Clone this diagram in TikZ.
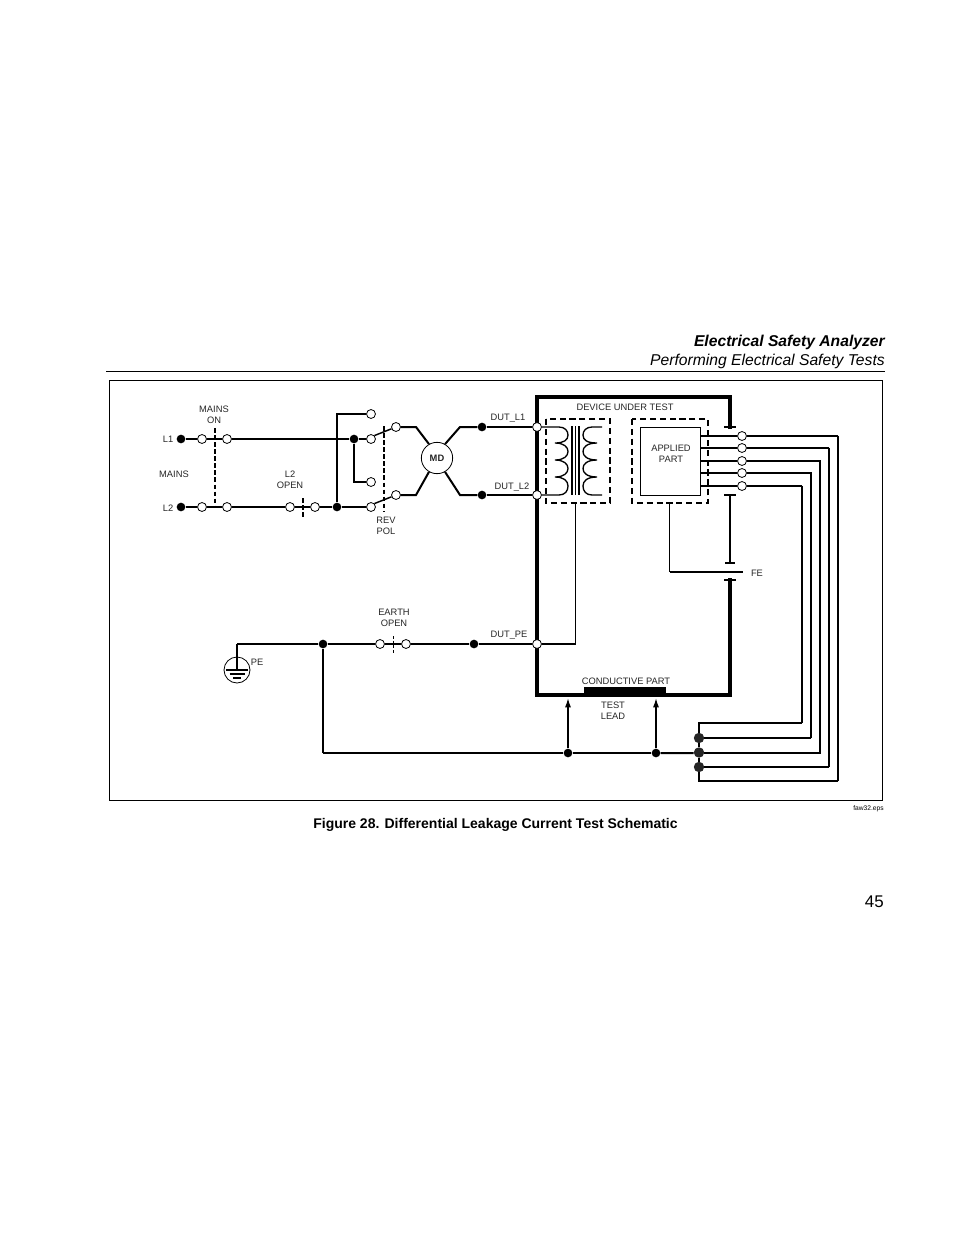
\documentclass[tikz,border=0pt]{standalone}
\usepackage{fontspec}
\setmainfont{Liberation Sans}
\usetikzlibrary{arrows.meta}
\tikzset{
  ot/.style={circle,draw=black,fill=white,line width=0.6pt,minimum size=6.7pt,inner sep=0pt},
  dotn/.style={circle,fill=black,minimum size=6.5pt,inner sep=0pt},
  bigdot/.style={circle,fill=black!85,minimum size=7.8pt,inner sep=0pt},
  lab/.style={font=\fontsize{7}{8.25}\selectfont,inner sep=0pt,align=center,text=black!85},
  thk/.style={line width=1.5pt},
  med/.style={line width=1.1pt},
  thn/.style={line width=0.85pt},
  boxl/.style={line width=2.3pt,line cap=rect},
  ganged/.style={line width=1.5pt,dash pattern=on 3.4pt off 1.9pt},
  dbox/.style={line width=1pt,dash pattern=on 4.6pt off 2.8pt},
  capbar/.style={line width=2.2pt},
  coil/.style={line width=1pt}
}
\begin{document}
\begin{tikzpicture}[x=0.75pt,y=-0.75pt]
\useasboundingbox (0,0) rectangle (954,1235);
% page furniture
\node[anchor=east,inner sep=0pt,font=\fontsize{11.75}{14}\selectfont\bfseries\itshape] (title) at (885,342) {Electrical Safety Analyzer};
\node[anchor=east,inner sep=0pt,font=\fontsize{11.75}{14}\selectfont\itshape] (subtitle) at (885,361) {Performing Electrical Safety Tests};
\draw[line width=0.7pt] (106,371) -- (885,371);
\draw[line width=0.6pt] (109,380) rectangle (882,800);
\node[anchor=east,inner sep=0pt,font=\fontsize{5}{6}\selectfont] (eps) at (884,809) {faw32.eps};
\node[inner sep=0pt,font=\fontsize{10.5}{12}\selectfont\bfseries] (cap) at (495.5,825) {Figure 28. Differential Leakage Current Test Schematic};
\node[anchor=east,inner sep=0pt,font=\fontsize{12.7}{15}\selectfont] (page) at (884,902) {45};

% device box
\coordinate (capA) at (730,427);
\coordinate (capB) at (730,495);
\coordinate (capC) at (730,563);
\coordinate (capD) at (730,580);
\draw[boxl] (capA) -- (730,397) -- (537,397) -- (537,695) -- (730,695) -- (capD);
\draw[capbar] (724,427) -- (736,427);
\draw[capbar] (724,495) -- (736,495);
\draw[line width=2.2pt] (capB) -- (capC);
\draw[capbar] (725,563) -- (735,563);
\draw[capbar] (724,580) -- (736,580);
\fill (584,687) rectangle (666,695);

% dashed boxes
\draw[dbox] (546,419) rectangle (610,503);
\draw[dbox] (632,419) rectangle (708,503);
\node[draw,line width=0.7pt,minimum width=45pt,minimum height=51pt,inner sep=0pt,lab] (ap) at (670,461) {};
\node[lab] (aptext) at (671,454) {APPLIED\\PART};

% terminals
\foreach \n/\x/\y in {a1/202/439,a2/227/439,b1/202/507,b2/227/507,c1/290/507,c2/315/507,
  s1/371/414,s2/371/439,s3/371/482,s4/371/507,m1/396/427,m2/396/495,
  d1/537/427,d2/537/495,d3/537/644,e1/380/644,e2/406/644,
  u1/742/436,u2/742/448,u3/742/461,u4/742/473,u5/742/486}
  {\node[ot] (\n) at (\x,\y) {};}
\foreach \n/\x/\y in {l1/181/439,l2/181/507,j1/337/507,j2/354/439,k1/482/427,k2/482/495,
  p1/323/644,p2/474/644,t1/568/753,t2/656/753}
  {\node[dotn] (\n) at (\x,\y) {};}
\foreach \n/\y in {h1/738,h2/752.5,h3/767}
  {\node[bigdot] (\n) at (699,\y) {};}

% mains
\draw[thk] (l1) -- (a1);
\draw[thn] (a1) -- (a2);
\draw[med] (a2) -- (j2);
\draw[thk] (j2) -- (s2);
\draw[thk] (l2) -- (b1);
\draw[med] (b1) -- (b2);
\draw[thk] (b2) -- (c1);
\draw[med] (c1) -- (c2);
\draw[thk] (c2) -- (j1);
\draw[thk] (j1) -- (s4);
\draw[thk] (j1) |- (s1);
\draw[thn] (j2) |- (s3);
\draw[ganged] (215,428) -- (215,507);
\draw[ganged] (303,498) -- (303,517);
\draw[ganged] (384,426) -- (384,511);
\draw[med] (s2.north east) -- (m1);
\draw[med] (s4.north east) -- (m2);

% MD
\node[circle,draw,line width=0.6pt,fill=white,minimum size=23.5pt,inner sep=0pt,font=\fontsize{7}{8}\selectfont\bfseries,text=black!85] (md) at (437,458) {MD};
\draw[thk] (m1) -- (416,427) -- (md.120);
\draw[thk] (m2) -- (416,495) -- (md.240);
\draw[thk] (md.60) -- (460,427) -- (k1);
\draw[thk] (md.300) -- (460,495) -- (k2);
\draw[thk] (k1) -- (d1);
\draw[thk] (k2) -- (d2);

% transformer
\draw[coil] (d1) -- (559,427)
  .. controls (565,427) and (568,431) .. (568,435) .. controls (568,440) and (564,443) .. (555,443)
  .. controls (564,443) and (568,447) .. (568,451.5) .. controls (568,456) and (564,460) .. (555,460)
  .. controls (564,460) and (568,464) .. (568,468.5) .. controls (568,473) and (564,477) .. (555,477)
  .. controls (564,477) and (568,481) .. (568,486) .. controls (568,491) and (565,495) .. (559,495) -- (d2);
\draw[coil] (602,427) -- (592,427)
  .. controls (586,427) and (583,431) .. (583,435) .. controls (583,440) and (587,443) .. (597,443)
  .. controls (587,443) and (583,447) .. (583,451.5) .. controls (583,456) and (587,460) .. (597,460)
  .. controls (587,460) and (583,464) .. (583,468.5) .. controls (583,473) and (587,477) .. (597,477)
  .. controls (587,477) and (583,481) .. (583,486) .. controls (583,491) and (586,495) .. (592,495) -- (602,495);
\draw[line width=0.8pt] (572,426) -- (572,495);
\draw[line width=1pt] (575.5,426) -- (575.5,495);
\draw[line width=0.8pt] (579,426) -- (579,495);

% earth
\draw[med] (575.5,503) |- (d3);
\draw[thk] (p2) -- (d3);
\draw[med] (e2) -- (p2);
\draw[thk] (p1) -- (e1);
\draw[thk] (p1) -- (237,644) coordinate (gndtop);
\node[circle,draw,line width=0.6pt,minimum size=19.5pt,inner sep=0pt] (gnd) at (237,670) {};
\draw[thn] (gndtop) -- (237,670);
\draw[line width=1.4pt] (226,670) -- (248,670);
\draw[line width=1.3pt] (229.5,673.8) -- (244.5,673.8);
\draw[line width=1.3pt] (233,677.8) -- (241,677.8);
\draw[line width=0.6pt,dash pattern=on 2.2pt off 1.3pt] (393,636) -- (393,653);
\draw[thn] (e1) -- (e2);

% FE
\draw[med] (669.5,503) -- (669.5,572) coordinate (fecorner);
\draw[thk] (fecorner) -- (743,572);

% applied part leads
\draw[thn] (700,436) -- (u1);
\draw[thk] (700,448) -- (u2);
\draw[thk] (700,461) -- (u3);
\draw[thn] (700,473) -- (u4);
\draw[thn] (700,486) -- (u5);

% bus
\draw[thn] (u1) -- (838,436);
\draw[thk] (838,435.5) -- (838,781);
\draw[med] (838,781) -- (699,781) -- (h3);
\draw[thn] (u2) -- (829,448);
\draw[thk] (829,447.5) -- (829,767);
\draw[thn] (829,767) -- (h3);
\draw[thk] (u3) -- (820,461) -- (820,752.5) -- (h2);
\draw[thk] (u4) -- (811,473) -- (811,738);
\draw[thn] (811,738) -- (h1);
\draw[thn] (u5) -- (802,486);
\draw[thk] (802,485.5) -- (802,723);
\draw[med] (802,723) -- (699,723) -- (h1);
\draw[med] (h1) -- (h2);
\draw[med] (h2) -- (h3);
\draw[thk] (h2) -- (t2 -| h2.west) -- (t2);
\draw[thk] (t2) -- (t1);
\draw[thk] (t1) -- (323,753) coordinate (buscorner);
\draw[thn] (buscorner) -- (p1);
\draw[med,-{Latex[length=7pt,width=4.5pt]}] (t1) -- (568,698);
\draw[med,-{Latex[length=7pt,width=4.5pt]}] (t2) -- (656,698);

% labels
\node[lab] (mainson) at (214,414.5) {MAINS\\ON};
\node[lab] (t_l1) at (168,439.5) {L1};
\node[lab] (t_mains) at (174,474) {MAINS};
\node[lab] (t_l2) at (168,508) {L2};
\node[lab] (l2open) at (290,479.5) {L2\\OPEN};
\node[lab] (revpol) at (386,525.5) {REV\\POL};
\node[lab] (t_dl1) at (508,418) {DUT\_L1};
\node[lab] (t_dl2) at (512,487) {DUT\_L2};
\node[lab] (t_dut) at (625,407) {DEVICE UNDER TEST};
\node[lab] (t_fe) at (757,573) {FE};
\node[lab] (earth) at (394,617.5) {EARTH\\OPEN};
\node[lab] (t_dpe) at (509,635) {DUT\_PE};
\node[lab] (t_pe) at (257,662) {PE};
\node[lab] (t_cp) at (626,681) {CONDUCTIVE PART};
\node[lab] (t_tl) at (613,710.5) {TEST\\LEAD};
\end{tikzpicture}
\end{document}
